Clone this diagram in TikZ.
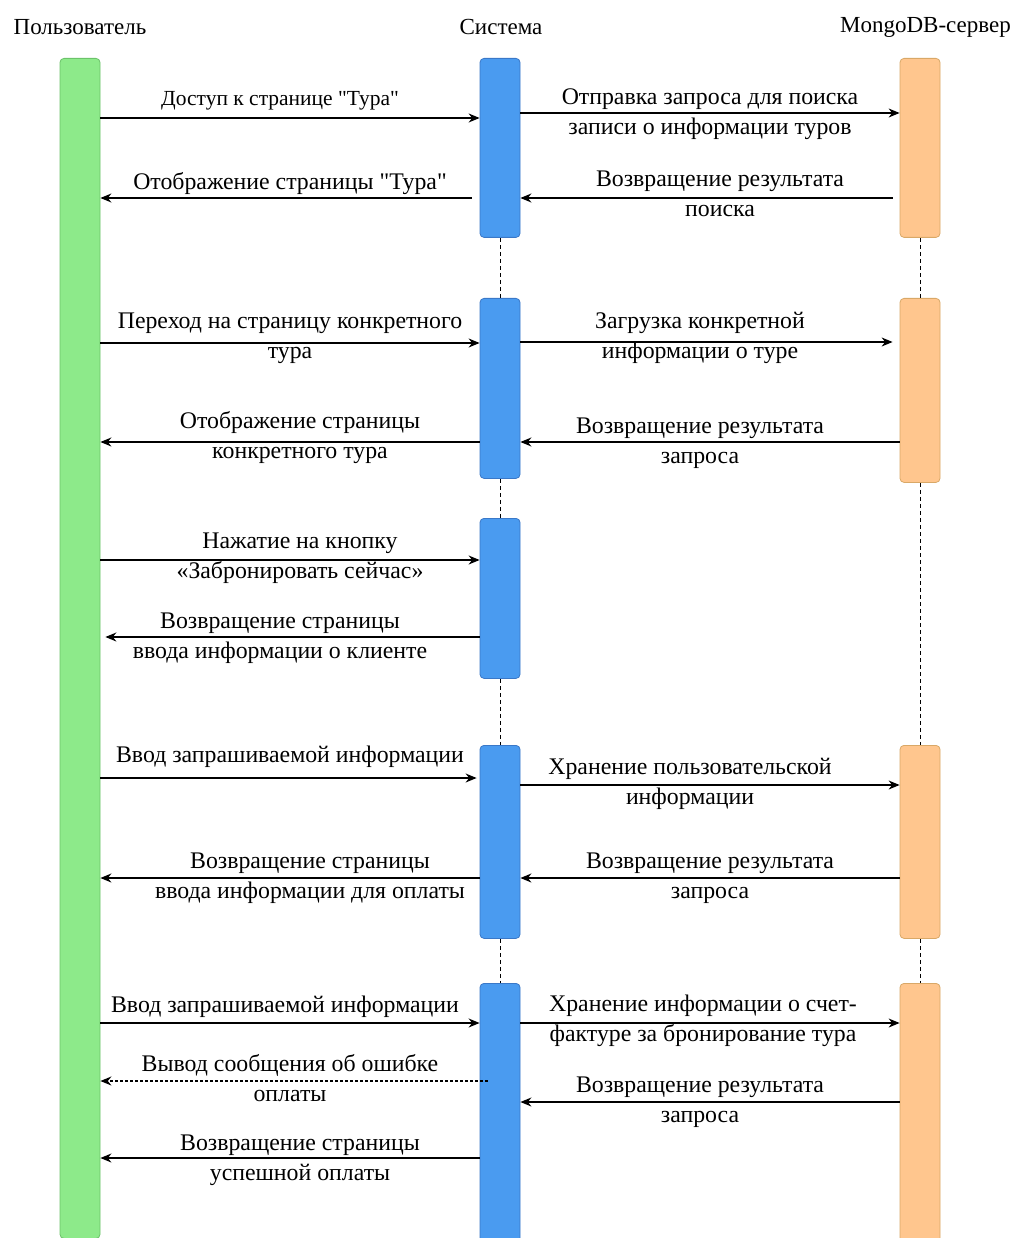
\documentclass[tikz,border=0pt]{standalone}
\usepackage{fontspec}
\setmainfont{Liberation Serif}[Ligatures=TeXOff]
\usetikzlibrary{arrows.meta}
\definecolor{ugreen}{HTML}{8DEA8A}
\definecolor{ugreenb}{HTML}{6CC36A}
\definecolor{sblue}{HTML}{4A9BF0}
\definecolor{sblueb}{HTML}{3A78C8}
\definecolor{morange}{HTML}{FFC68E}
\definecolor{morangeb}{HTML}{D9A867}
\newcommand{\qq}{\char34\relax}
\begin{document}
\begin{tikzpicture}[x=1pt,y=-1pt,
  lifebox/.style={rectangle,rounded corners=4pt,minimum width=40pt,anchor=north,inner sep=0pt,line width=0.8pt},
  ubox/.style={lifebox,fill=ugreen,draw=ugreenb},
  sbox/.style={lifebox,fill=sblue,draw=sblueb},
  mbox/.style={lifebox,fill=morange,draw=morangeb},
  head/.style={font=\fontsize{23}{26}\selectfont,inner sep=0pt},
  lbl/.style={font=\fontsize{23.8}{30}\selectfont,align=center,inner sep=0pt},
  msg/.style={line width=1.4pt,-{Stealth[length=11pt,width=9pt]}},
  life/.style={dashed,line width=0.7pt,dash pattern=on 4pt off 3pt}
]
\useasboundingbox (0,0) rectangle (1014,1238);
\fill[white] (0,0) rectangle (1014,1238);

% headers
\node[head] (hu) at (80,27) {Пользователь};
\node[head] (hs) at (501,27) {Система};
\node[head,anchor=east] (hm) at (1011,27) {MongoDB-сервер};

% lifeline boxes
\node[ubox,minimum height=1180pt] (u) at (80,58) {};
\node[sbox,minimum height=179pt] (s1) at (500,58) {};
\node[sbox,minimum height=180pt] (s2) at (500,298) {};
\node[sbox,minimum height=160pt] (s3) at (500,518) {};
\node[sbox,minimum height=193pt] (s4) at (500,745) {};
\node[sbox,minimum height=260pt] (s5) at (500,983) {};
\node[mbox,minimum height=179pt] (m1) at (920,58) {};
\node[mbox,minimum height=184pt] (m2) at (920,298) {};
\node[mbox,minimum height=193pt] (m3) at (920,745) {};
\node[mbox,minimum height=260pt] (m4) at (920,983) {};

\draw[life] (s1.south) -- (s2.north);
\draw[life] (s2.south) -- (s3.north);
\draw[life] (s3.south) -- (s4.north);
\draw[life] (s4.south) -- (s5.north);
\draw[life] (m1.south) -- (m2.north);
\draw[life] (m2.south) -- (m3.north);
\draw[life] (m3.south) -- (m4.north);

% block 1
\draw[msg] (u.east |- 0,118) -- (s1.west |- 0,118);
\node[lbl,font=\fontsize{21.5}{30}\selectfont] (l1) at (280,101) {Доступ к странице \qq Тура\qq};
\draw[msg] ([xshift=-8pt]s1.west |- 0,198) -- (u.east |- 0,198);
\node[lbl] (l2) at (290,184) {Отображение страницы \qq Тура\qq};
\draw[msg] (s1.east |- 0,113) -- (m1.west |- 0,113);
\node[lbl] (l3) at (710,114) {Отправка запроса для поиска\\записи о информации туров};
\draw[msg] ([xshift=-7pt]m1.west |- 0,198) -- (s1.east |- 0,198);
\node[lbl] (l4) at (720,194) {Возвращение результата\\поиска};

% block 2
\draw[msg] (u.east |- 0,343) -- (s2.west |- 0,343);
\node[lbl] (l5) at (290,338) {Переход на страницу конкретного\\тура};
\draw[msg] (s2.east |- 0,342) -- ([xshift=-7pt]m2.west |- 0,342);
\node[lbl] (l6) at (700,338) {Загрузка конкретной\\информации о туре};
\draw[msg] (s2.west |- 0,442) -- (u.east |- 0,442);
\node[lbl] (l7) at (300,438) {Отображение страницы\\конкретного тура};
\draw[msg] (m2.west |- 0,442) -- (s2.east |- 0,442);
\node[lbl] (l8) at (700,443) {Возвращение результата\\запроса};

% block 3
\draw[msg] (u.east |- 0,560) -- (s3.west |- 0,560);
\node[lbl] (l9) at (300,558) {Нажатие на кнопку\\«Забронировать сейчас»};
\draw[msg] (s3.west |- 0,637) -- ([xshift=5pt]u.east |- 0,637);
\node[lbl] (l10) at (280,638) {Возвращение страницы\\ввода информации о клиенте};

% block 4
\draw[msg] (u.east |- 0,778) -- ([xshift=-3pt]s4.west |- 0,778);
\node[lbl] (l11) at (290,757) {Ввод запрашиваемой информации};
\draw[msg] (s4.east |- 0,785) -- (m3.west |- 0,785);
\node[lbl] (l12) at (690,784) {Хранение пользовательской\\информации};
\draw[msg] (m3.west |- 0,878) -- (s4.east |- 0,878);
\node[lbl] (l13) at (710,878) {Возвращение результата\\запроса};
\draw[msg] (s4.west |- 0,878) -- (u.east |- 0,878);
\node[lbl] (l14) at (310,878) {Возвращение страницы\\ввода информации для оплаты};

% block 5
\draw[msg] (u.east |- 0,1023) -- (s5.west |- 0,1023);
\node[lbl] (l15) at (285,1007) {Ввод запрашиваемой информации};
\draw[msg] (s5.east |- 0,1023) -- (m4.west |- 0,1023);
\node[lbl] (l16) at (703,1021) {Хранение информации о счет-\\фактуре за бронирование тура};
\draw[msg,dash pattern=on 3pt off 2pt] ([xshift=8pt]s5.west |- 0,1081) -- (u.east |- 0,1081);
\node[lbl] (l17) at (290,1078) {Вывод сообщения об ошибке\\оплаты};
\draw[msg] (m4.west |- 0,1102) -- (s5.east |- 0,1102);
\node[lbl] (l18) at (700,1102) {Возвращение результата\\запроса};
\draw[msg] (s5.west |- 0,1158) -- (u.east |- 0,1158);
\node[lbl] (l19) at (300,1160) {Возвращение страницы\\успешной оплаты};
\end{tikzpicture}
\end{document}
